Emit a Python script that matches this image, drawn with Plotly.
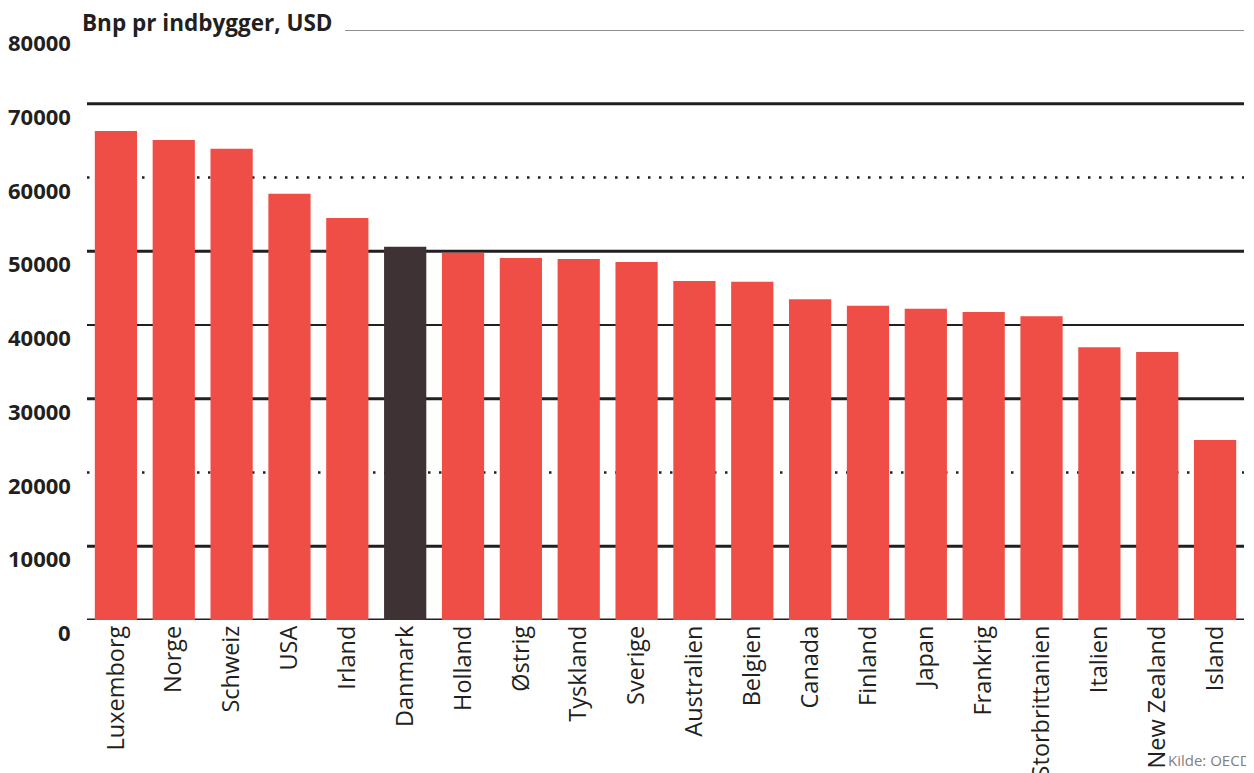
import plotly.graph_objects as go

countries = ["Luxemborg", "Norge", "Schweiz", "USA", "Irland", "Danmark", "Holland", "Østrig",
             "Tyskland", "Sverige", "Australien", "Belgien", "Canada", "Finland", "Japan",
             "Frankrig", "Storbrittanien", "Italien", "New Zealand", "Island"]
gdp_per_capita = [66300, 65100, 63900, 57800, 54500, 50600, 49800, 49100,
                  48950, 48550, 45950, 45850, 43500, 42600, 42200,
                  41750, 41200, 37000, 36350, 24400]
highlight = "Danmark"
y_ticks = [0, 10000, 20000, 30000, 40000, 50000, 60000, 70000, 80000]

RED = "#EF4E46"
DARK = "#3E3235"
INK = "#231F20"

colors = [DARK if c == highlight else RED for c in countries]

fig = go.Figure()
fig.add_trace(go.Bar(x=countries, y=gdp_per_capita, marker=dict(color=colors, line=dict(width=0)),
                     width=0.73, showlegend=False))

# gridline styles: value -> (width, dash, x0)
grid_styles = {
    0: (3, "solid", 0), 10000: (3, "solid", 0), 20000: (2.5, "2.5px,8.5px", 0),
    30000: (3, "solid", 0), 40000: (2, "solid", 0), 50000: (3, "solid", 0),
    60000: (2.5, "2.5px,8.5px", 0), 70000: (3, "solid", 0), 80000: (1.2, "solid", 0.223),
}
shapes = []
for v in y_ticks:
    w, d, x0 = grid_styles[v]
    shapes.append(dict(type="line", xref="paper", yref="y", x0=x0, x1=1, y0=v, y1=v,
                       line=dict(color=INK, width=w, dash=d), layer="below"))

annotations = []
for v in y_ticks:
    annotations.append(dict(xref="paper", yref="y", x=-0.012, y=v, yshift=-12,
                            text=f"<b>{v}</b>", showarrow=False, xanchor="right", yanchor="middle",
                            font=dict(family="Open Sans", size=22, color=INK)))
annotations.append(dict(xref="paper", yref="y", x=-0.006, y=80000, yshift=8,
                        text="<b>Bnp pr indbygger, USD</b>", showarrow=False,
                        xanchor="left", yanchor="middle",
                        font=dict(family="Open Sans", size=22.5, color=INK)))
annotations.append(dict(xref="paper", yref="y", x=0.933, y=0, yshift=-140,
                        text="Kilde: OECD", showarrow=False, xanchor="left", yanchor="middle",
                        font=dict(family="Open Sans", size=15, color="#808080")))

fig.update_layout(
    width=1254, height=773,
    margin=dict(l=79, r=18, t=22, b=161, autoexpand=False),
    paper_bgcolor="white", plot_bgcolor="white",
    shapes=shapes, annotations=annotations,
    bargap=0.27,
    xaxis=dict(range=[-0.5, 19.5], tickangle=-90, showgrid=False, showline=False, zeroline=False,
               ticks="", automargin=False,
               tickfont=dict(family="Open Sans", size=23.5, color=INK)),
    yaxis=dict(range=[0, 80000], showgrid=False, showticklabels=False, zeroline=False,
               showline=False, ticks="", automargin=False),
)

fig.write_html("out.html")
